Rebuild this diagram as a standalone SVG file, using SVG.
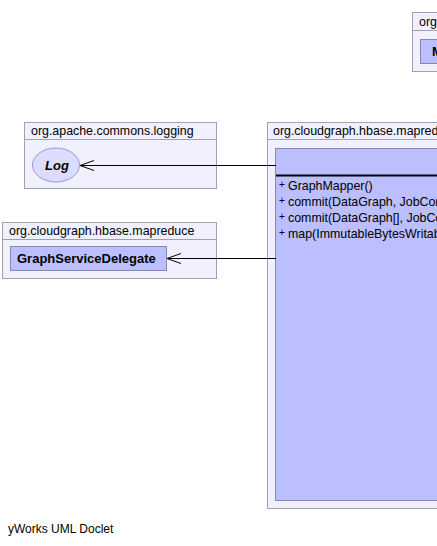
<svg xmlns="http://www.w3.org/2000/svg" width="437" height="546" viewBox="0 0 437 546">
<defs>
<style>
.pkg{fill:#f0f0ff;stroke:#a0a0b4;stroke-width:1}
.cls{fill:#bbbfff;stroke:#8888a8;stroke-width:1}
.t{font-family:"Liberation Sans",Arial,sans-serif;font-size:12.4px;fill:#000}
.b{font-family:"Liberation Sans",Arial,sans-serif;font-size:13px;font-weight:bold;fill:#000}
.p{font-size:10px}
.edge{stroke:#000;stroke-width:1;fill:none}
</style>
<marker id="open" markerWidth="16" markerHeight="12" refX="14" refY="6" orient="auto" markerUnits="userSpaceOnUse">
<path d="M0,1 L14,6 L0,11" fill="none" stroke="#000" stroke-width="1"/>
</marker>
</defs>
<rect width="437" height="546" fill="#fff"/>
<g id="pkg-top">
<rect class="pkg" x="412.5" y="12.5" width="40" height="59"/>
<line class="pkg" x1="412.5" y1="30.5" x2="452" y2="30.5"/>
<text class="t" x="419" y="26">org</text>
<rect class="cls" x="420.5" y="39.5" width="40" height="24"/>
<text class="b" x="432" y="56">M</text>
</g>
<g id="pkg-logging">
<rect class="pkg" x="24.5" y="122.5" width="192" height="66"/>
<line class="pkg" x1="24.5" y1="139.5" x2="216.5" y2="139.5"/>
<text class="t" x="31" y="135">org.apache.commons.logging</text>
<ellipse cx="56" cy="165" rx="23.5" ry="17" fill="#dcdcff" stroke="#9a9ac8"/>
<text class="b" x="57" y="170" text-anchor="middle" font-style="italic">Log</text>
</g>
<g id="pkg-delegate">
<rect class="pkg" x="2.5" y="222.5" width="214" height="56"/>
<line class="pkg" x1="2.5" y1="239.5" x2="216.5" y2="239.5"/>
<text class="t" x="9" y="235">org.cloudgraph.hbase.mapreduce</text>
<rect class="cls" x="10.5" y="246.5" width="156" height="24"/>
<text class="b" x="17" y="263">GraphServiceDelegate</text>
</g>
<g id="pkg-mapper">
<rect class="pkg" x="267.5" y="122.5" width="180" height="386"/>
<line class="pkg" x1="267.5" y1="139.5" x2="447" y2="139.5"/>
<text class="t" x="273" y="135">org.cloudgraph.hbase.mapreduce</text>
<rect class="cls" x="275.5" y="148.5" width="170" height="352"/>
<line x1="276" y1="175.5" x2="437" y2="175.5" stroke="#000" stroke-width="2"/>
<text class="t" x="279" y="190"><tspan class="p" dy="-2">+</tspan><tspan dy="2" x="288">GraphMapper()</tspan></text>
<text class="t" x="279" y="206"><tspan class="p" dy="-2">+</tspan><tspan dy="2" x="288">commit(DataGraph, JobContext)</tspan></text>
<text class="t" x="279" y="222"><tspan class="p" dy="-2">+</tspan><tspan dy="2" x="288">commit(DataGraph[], JobContext)</tspan></text>
<text class="t" x="279" y="238"><tspan class="p" dy="-2">+</tspan><tspan dy="2" x="288">map(ImmutableBytesWritable)</tspan></text>
</g>
<g id="connectors">
<line class="edge" x1="276" y1="165.5" x2="80" y2="165.5" marker-end="url(#open)"/>
<line class="edge" x1="276" y1="258.5" x2="167" y2="258.5" marker-end="url(#open)"/>
</g>
<text class="t" x="8" y="533" style="font-size:12px">yWorks UML Doclet</text>
</svg>
